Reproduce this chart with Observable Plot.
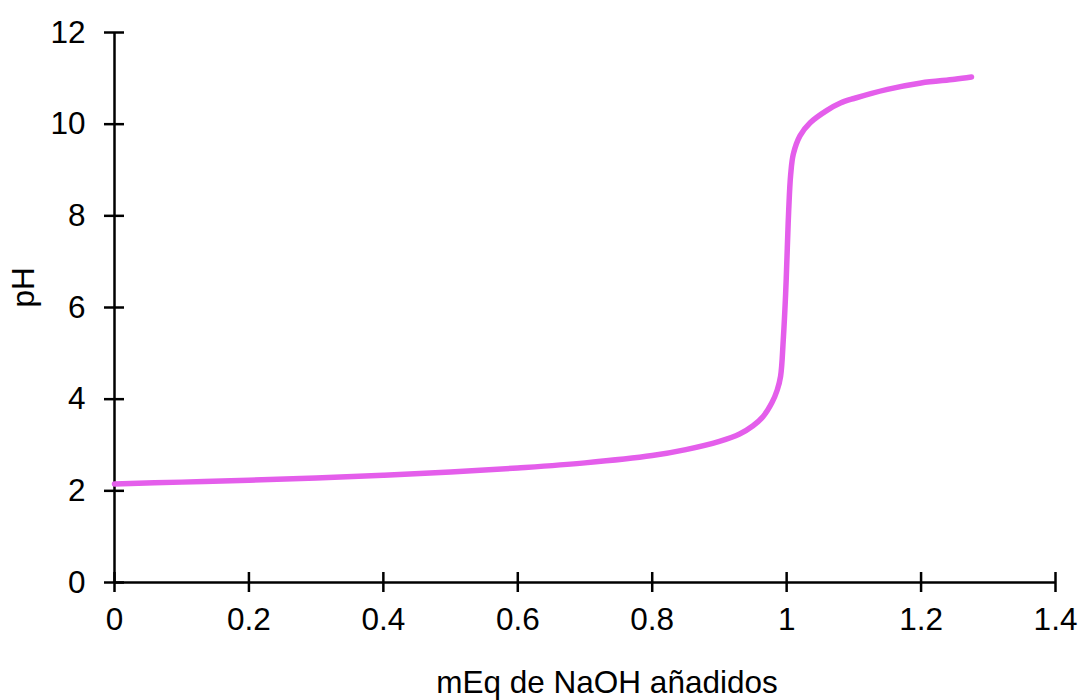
<!DOCTYPE html>
<html>
<head>
<meta charset="utf-8">
<script src="https://cdn.jsdelivr.net/npm/d3@7"></script>
<script src="https://cdn.jsdelivr.net/npm/@observablehq/plot@0.6"></script>
<style>
  html, body { margin: 0; padding: 0; background: #fff; }
  #chart svg { display: block; }
</style>
</head>
<body>
<div id="chart"></div>
<script>
const naoh = [0, 0.1, 0.2, 0.3, 0.4, 0.5, 0.6, 0.7, 0.8, 0.85, 0.9, 0.93, 0.95, 0.965, 0.978, 0.986, 0.991, 0.995, 0.9985, 1.001, 1.003, 1.006, 1.01, 1.02, 1.035, 1.06, 1.08, 1.1, 1.15, 1.2, 1.25, 1.275];
const ph   = [2.15, 2.19, 2.23, 2.28, 2.34, 2.41, 2.50, 2.61, 2.77, 2.90, 3.08, 3.24, 3.42, 3.62, 3.92, 4.2, 4.5, 5.3, 6.3, 7.3, 8.1, 8.9, 9.35, 9.75, 10.03, 10.3, 10.46, 10.56, 10.76, 10.9, 10.98, 11.03];
const xTicks = [0, 0.2, 0.4, 0.6, 0.8, 1, 1.2, 1.4];
const yTicks = [0, 2, 4, 6, 8, 10, 12];
const xLabel = "mEq de NaOH añadidos";
const yLabel = "pH";

const data = naoh.map((x, i) => ({x, y: ph[i]}));
const FS = 31.5;

const chart = Plot.plot({
  width: 1080,
  height: 700,
  marginLeft: 114,
  marginRight: 25,
  marginTop: 32,
  marginBottom: 118,
  style: {fontFamily: "'Liberation Sans', Arial, sans-serif", fontSize: FS + "px", color: "#000", background: "#fff"},
  x: {domain: [0, 1.4], label: null},
  y: {domain: [0, 12], label: null},
  marks: [
    Plot.axisX({ticks: xTicks, tickSize: 20, dy: -10, tickPadding: 15, tickFormat: d => String(d), strokeWidth: 2.5, fontSize: FS, label: null}),
    Plot.axisY({ticks: yTicks, tickSize: 20, dx: 10, tickPadding: 19, tickFormat: d => String(d), strokeWidth: 2.5, fontSize: FS, label: null}),
    Plot.ruleX([0], {stroke: "#000", strokeWidth: 2.5}),
    Plot.ruleY([0], {stroke: "#000", strokeWidth: 2.5}),
    Plot.line(data, {x: "x", y: "y", stroke: "#e45eeb", strokeWidth: 5.5, curve: "catmull-rom", strokeLinecap: "round"}),
    Plot.text([xLabel], {frameAnchor: "bottom", dx: 22, dy: 110, fontSize: FS, fill: "#000"}),
    Plot.text([yLabel], {frameAnchor: "left", dx: -91, rotate: -90, fontSize: FS, fill: "#000"})
  ]
});
document.getElementById("chart").appendChild(chart);
</script>
</body>
</html>
